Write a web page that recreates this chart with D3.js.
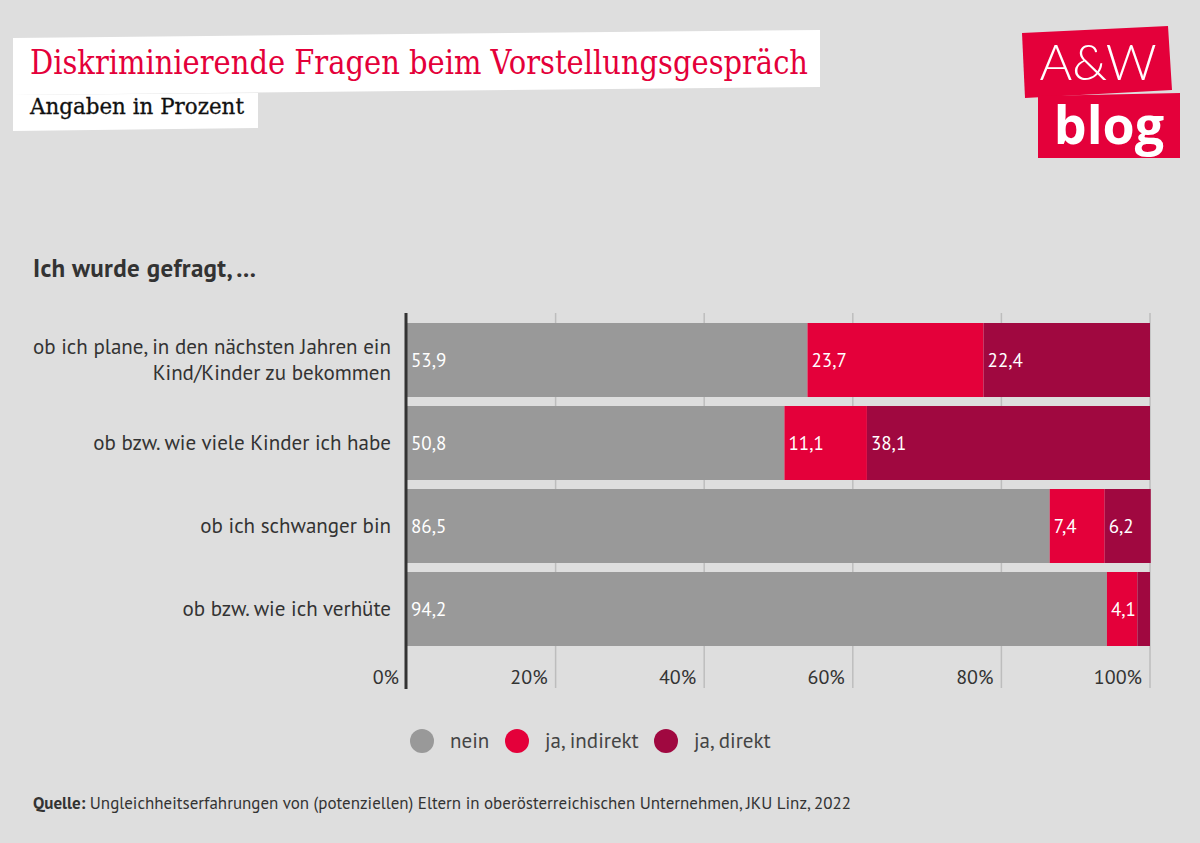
<!DOCTYPE html>
<html><head><meta charset="utf-8">
<script src="https://cdn.jsdelivr.net/npm/d3@7"></script>
<style>
html,body{margin:0;padding:0;background:#dedede;}
svg{display:block;}
</style></head>
<body>
<svg id="c" width="1200" height="843"></svg>
<script>
const categories = [
  ["ob ich plane, in den nächsten Jahren ein", "Kind/Kinder zu bekommen"],
  ["ob bzw. wie viele Kinder ich habe"],
  ["ob ich schwanger bin"],
  ["ob bzw. wie ich verhüte"]
];
const seriesNames = ["nein", "ja, indirekt", "ja, direkt"];
const nein = [53.9, 50.8, 86.5, 94.2];
const jaIndirekt = [23.7, 11.1, 7.4, 4.1];
const jaDirekt = [22.4, 38.1, 6.2, 1.7];
const showLabel = [[true,true,true],[true,true,true],[true,true,true],[true,true,false]];
const tickValues = [0, 20, 40, 60, 80, 100];
const colors = ["#999999", "#e4003a", "#a00840"];

const svg = d3.select("#c");
const sans = "'PT Sans','Noto Sans','Open Sans',sans-serif";

svg.append("rect").attr("width",1200).attr("height",843).attr("fill","#dedede");

// Title boxes
svg.append("polygon").attr("points","13,38 820,30 820,87 13,95").attr("fill","#fff");
svg.append("polygon").attr("points","13,95 258,93 258,128 13,131").attr("fill","#fff");
svg.append("text").attr("x",30).attr("y",74).attr("fill","#e4003a")
  .attr("font-family","'DejaVu Serif',serif").attr("font-size",33)
  .attr("textLength",778).attr("lengthAdjust","spacingAndGlyphs")
  .text("Diskriminierende Fragen beim Vorstellungsgespräch");
svg.append("text").attr("x",30).attr("y",114).attr("fill","#111")
  .attr("font-family","'DejaVu Serif',serif").attr("font-size",22)
  .attr("stroke","#111").attr("stroke-width",0.3)
  .attr("textLength",214).attr("lengthAdjust","spacingAndGlyphs")
  .text("Angaben in Prozent");

// Logo
svg.append("polygon").attr("points","1022,33 1168,26 1172,90 1025,98").attr("fill","#e4003a");
svg.append("polygon").attr("points","1038,96 1180,93 1180,158 1038,158").attr("fill","#e4003a");
svg.append("text").attr("x",1098).attr("y",80).attr("text-anchor","middle").attr("fill","#fff")
  .attr("font-family","'Lato','Open Sans',sans-serif").attr("font-size",50).attr("font-weight",300)
  .text("A&W");
svg.append("text").attr("x",1109).attr("y",144).attr("text-anchor","middle").attr("fill","#fff")
  .attr("font-family","'Open Sans',sans-serif").attr("font-size",52).attr("font-weight",700)
  .text("blog");

// Subheading
svg.append("text").attr("x",33).attr("y",277).attr("fill","#333")
  .attr("font-family",sans).attr("font-size",25).attr("font-weight",700)
  .attr("textLength",223).attr("lengthAdjust","spacing")
  .text("Ich wurde gefragt, ...");

// Scales
const x = d3.scaleLinear().domain([0,100]).range([407,1150]);
const y = d3.scaleBand().domain(d3.range(categories.length)).range([313,656]).paddingInner(0.1084).paddingOuter(0.1205);

// Grid
svg.append("g").selectAll("line").data(tickValues.slice(1)).join("line")
  .attr("x1",d=>x(d)).attr("x2",d=>x(d)).attr("y1",313).attr("y2",688)
  .attr("stroke","#bdbdbd").attr("stroke-width",1.5);

// Stack
const rows = categories.map((c,i)=>({i, v:[nein[i], jaIndirekt[i], jaDirekt[i]]}));
const g = svg.append("g");
rows.forEach(r=>{
  let acc = 0;
  r.v.forEach((v,k)=>{
    g.append("rect").attr("x",x(acc)).attr("y",y(r.i))
      .attr("width",x(acc+v)-x(acc)).attr("height",y.bandwidth()).attr("fill",colors[k]);
    if (showLabel[r.i][k]) {
      g.append("text").attr("x",x(acc)+4).attr("y",y(r.i)+y.bandwidth()/2).attr("dy","0.35em")
        .attr("fill","#fff").attr("font-family",sans).attr("font-size",19)
        .text(d3.format(".1f")(v).replace(".",","));
    }
    acc += v;
  });
});

// Category labels
rows.forEach(r=>{
  const lines = categories[r.i];
  const cy = y(r.i)+y.bandwidth()/2;
  const lh = 26;
  lines.forEach((ln,j)=>{
    svg.append("text").attr("x",391).attr("y",cy + (j-(lines.length-1)/2)*lh).attr("dy","0.35em")
      .attr("text-anchor","end").attr("fill","#333").attr("font-family",sans).attr("font-size",21)
      .text(ln);
  });
});

// Axis line
svg.append("line").attr("x1",406).attr("x2",406).attr("y1",313).attr("y2",689)
  .attr("stroke","#333").attr("stroke-width",3);

// Tick labels
svg.append("g").selectAll("text").data(tickValues).join("text")
  .attr("x",d=>x(d)-8).attr("y",684).attr("text-anchor","end")
  .attr("fill","#333").attr("font-family",sans).attr("font-size",20)
  .text(d=>d+"%");

// Legend
const legX = [422, 517, 666];
seriesNames.forEach((n,k)=>{
  svg.append("circle").attr("cx",legX[k]).attr("cy",741).attr("r",12).attr("fill",colors[k]);
  svg.append("text").attr("x",legX[k]+28).attr("y",741).attr("dy","0.35em")
    .attr("fill","#444").attr("font-family",sans).attr("font-size",21).text(n);
});

// Source
const src = svg.append("text").attr("x",33).attr("y",809).attr("fill","#333")
  .attr("font-family",sans).attr("font-size",17)
  .attr("textLength",818).attr("lengthAdjust","spacingAndGlyphs");
src.append("tspan").attr("font-weight",700).text("Quelle:");
src.append("tspan").text(" Ungleichheitserfahrungen von (potenziellen) Eltern in oberösterreichischen Unternehmen, JKU Linz, 2022");
</script>
</body></html>
